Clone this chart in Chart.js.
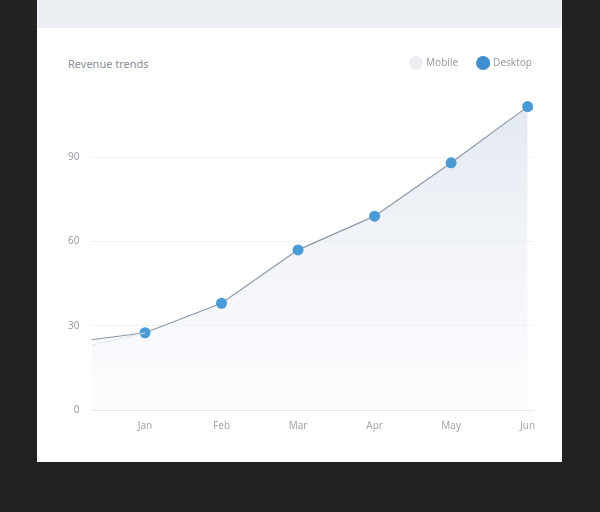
<!DOCTYPE html>
<html>
<head>
<meta charset="utf-8">
<script src="https://cdn.jsdelivr.net/npm/chart.js"></script>
<style>
  html, body { margin: 0; padding: 0; background: #222222; width: 600px; height: 512px; overflow: hidden; }
  #card { position: absolute; left: 37px; top: 0; width: 525px; height: 462px; background: #ffffff; }
  #head { position: absolute; left: 0; top: 0; width: 525px; height: 28px; background: #eceff3; }
  #title { position: absolute; left: 31px; top: 56px; font: 11px "Noto Sans", sans-serif; color: #8a8f96; }
  #wrap { position: absolute; left: 10px; top: 38px; width: 505px; height: 396px; }
</style>
</head>
<body>
<div id="card">
  <div id="head"></div>
  <div id="title">Revenue trends</div>
  <div id="wrap"><canvas id="lineChart"></canvas></div>
</div>
<script>
  // data
  const tickLabels = ['Jan', 'Feb', 'Mar', 'Apr', 'May', 'Jun'];
  const tickPositions = [1, 2, 3, 4, 5, 6];
  const desktopX = [0.3, 1, 2, 3, 4, 5, 6];
  const desktopValues = [25, 27.5, 38, 57, 69, 88, 108];
  const mobileX = [0.3, 1];
  const mobileValues = [23, 27.5];
  const seriesNames = ['Mobile', 'Desktop'];
  const legendColors = ['#eceef1', '#3f8fcf'];

  const ctx = document.getElementById('lineChart').getContext('2d');

  function areaFill(context) {
    const area = context.chart.chartArea;
    if (!area) return 'rgba(230,235,242,0.6)';
    const g = context.chart.ctx.createLinearGradient(0, area.top, 0, area.bottom);
    g.addColorStop(0, 'rgba(222,229,238,0.85)');
    g.addColorStop(1, 'rgba(244,246,250,0.35)');
    return g;
  }

  // extra room under the legend
  const legendSpacing = {
    id: 'legendSpacing',
    beforeInit(chart) {
      const fit = chart.legend.fit;
      chart.legend.fit = function () {
        fit.bind(this)();
        this.height += 23;
      };
    }
  };

  new Chart(ctx, {
    type: 'line',
    data: {
      datasets: [
        {
          label: seriesNames[0],
          data: mobileX.map((x, i) => ({ x: x, y: mobileValues[i] })),
          borderColor: '#e3e7ec',
          borderWidth: 1,
          pointRadius: 0,
          fill: false
        },
        {
          label: seriesNames[1],
          data: desktopX.map((x, i) => ({ x: x, y: desktopValues[i] })),
          borderColor: '#8a98a9',
          borderWidth: 1.2,
          backgroundColor: areaFill,
          fill: 'origin',
          tension: 0,
          pointRadius: desktopX.map((x, i) => i === 0 ? 0 : 5.5),
          pointHoverRadius: 5.5,
          pointBackgroundColor: '#4a9ad6',
          pointBorderColor: '#4a9ad6',
          pointBorderWidth: 0
        }
      ]
    },
    options: {
      responsive: true,
      maintainAspectRatio: false,
      animation: false,
      layout: { padding: { left: 9, right: 0, top: 0, bottom: 0 } },
      scales: {
        x: {
          type: 'linear',
          min: 0.3,
          max: 6.07,
          afterBuildTicks: (scale) => { scale.ticks = tickPositions.map(v => ({ value: v })); },
          ticks: {
            callback: (v) => tickLabels[tickPositions.indexOf(v)] || '',
            color: '#a3a7ad',
            font: { family: 'Noto Sans', size: 10 },
            padding: 2,
            maxRotation: 0
          },
          grid: { display: false },
          border: { color: '#e6e8eb' }
        },
        y: {
          min: 0,
          max: 110,
          afterBuildTicks: (scale) => { scale.ticks = scale.ticks.filter(t => t.value % 30 === 0); },
          ticks: {
            stepSize: 30,
            color: '#9a9ea4',
            font: { family: 'Noto Sans', size: 10 },
            padding: 12
          },
          grid: { color: '#f0f1f3', drawTicks: false },
          border: { display: false }
        },
        // empty right-hand axis, only keeps a margin right of the plot
        yRight: {
          position: 'right',
          min: 0,
          max: 110,
          afterFit: (scale) => { scale.width = 19; },
          ticks: { display: false },
          grid: { display: false },
          border: { display: false }
        }
      },
      plugins: {
        legend: {
          display: true,
          position: 'top',
          align: 'end',
          labels: {
            usePointStyle: true,
            pointStyle: 'circle',
            boxWidth: 10,
            boxHeight: 10,
            padding: 20,
            color: '#9a9ea4',
            font: { family: 'Noto Sans', size: 10 },
            generateLabels: (chart) => Chart.defaults.plugins.legend.labels.generateLabels(chart).map((l, i) => {
              l.fillStyle = legendColors[i];
              l.strokeStyle = legendColors[i];
              l.lineWidth = 0;
              return l;
            })
          }
        },
        title: { display: false },
        tooltip: { enabled: false }
      }
    },
    plugins: [legendSpacing]
  });
</script>
</body>
</html>
